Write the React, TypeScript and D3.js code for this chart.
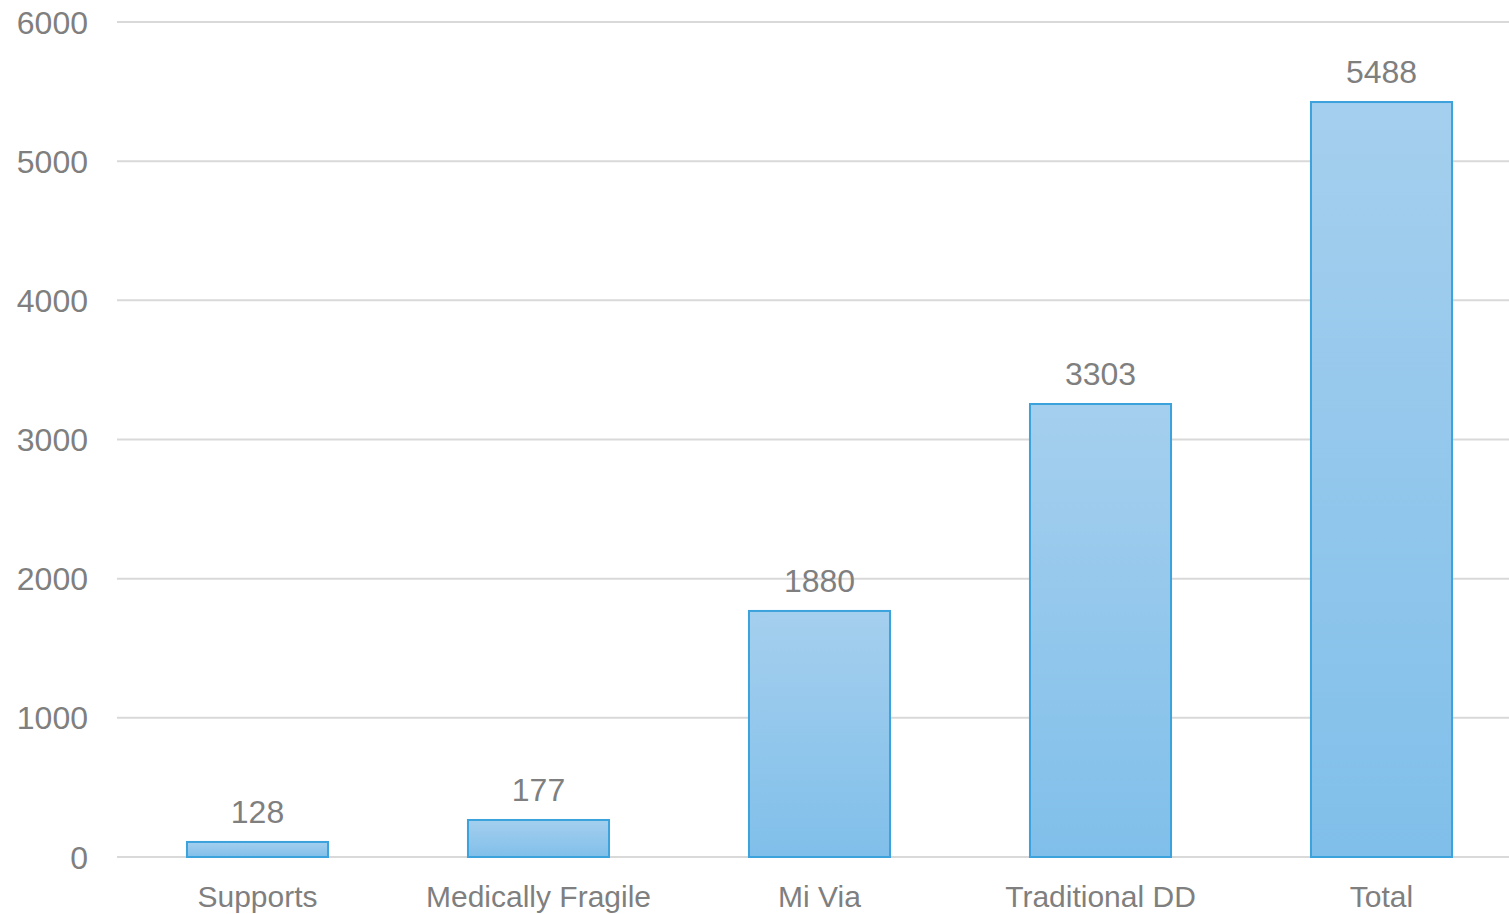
import React from "react";
import * as d3 from "d3";

const categories = ["Supports", "Medically Fragile", "Mi Via", "Traditional DD", "Total"];
// bar heights as drawn in the picture
const barValues = [108, 266, 1768, 3255, 5425];
// data labels as printed above the bars
const dataLabels = ["128", "177", "1880", "3303", "5488"];
const yTicks = [0, 1000, 2000, 3000, 4000, 5000, 6000];

const W = 1509;
const H = 914;
const left = 117;
const bandRight = 1522;
const right = 1509;
const top = 22;
const bottom = 857;
const FONT = "'Liberation Sans', Arial, sans-serif";
const TEXT = "#7f7f7f";

export default function App() {
  const x = d3.scaleBand<string>().domain(categories).range([left, bandRight]).paddingInner(0.498).paddingOuter(0.249);
  const y = d3.scaleLinear().domain([0, 6000]).range([bottom, top]);

  return (
    <svg width={W} height={H} style={{ position: "absolute", left: 0, top: 0, display: "block", background: "#fff" }}>
      <defs>
        <linearGradient id="barGrad" x1="0" y1="0" x2="0" y2="1">
          <stop offset="0" stopColor="#a5cfee" />
          <stop offset="1" stopColor="#80bfea" />
        </linearGradient>
      </defs>
      {yTicks.map((t) => (
        <g key={t}>
          <line x1={left} x2={right} y1={y(t)} y2={y(t)} stroke="#d9d9d9" strokeWidth={2} />
          <text x={88} y={y(t)} dy="0.36em" textAnchor="end" fontFamily={FONT} fontSize={32} fill={TEXT}>
            {t}
          </text>
        </g>
      ))}
      {categories.map((c, i) => {
        const bx = x(c)!;
        const bw = x.bandwidth();
        const by = y(barValues[i]);
        return (
          <g key={c}>
            <rect x={bx} y={by} width={bw} height={bottom - by} fill="url(#barGrad)" stroke="#3ba2dc" strokeWidth={2} />
            <text x={bx + bw / 2} y={by - 19} textAnchor="middle" fontFamily={FONT} fontSize={32} fill={TEXT}>
              {dataLabels[i]}
            </text>
            <text x={bx + bw / 2} y={907} textAnchor="middle" fontFamily={FONT} fontSize={30} fill={TEXT}>
              {c}
            </text>
          </g>
        );
      })}
    </svg>
  );
}
